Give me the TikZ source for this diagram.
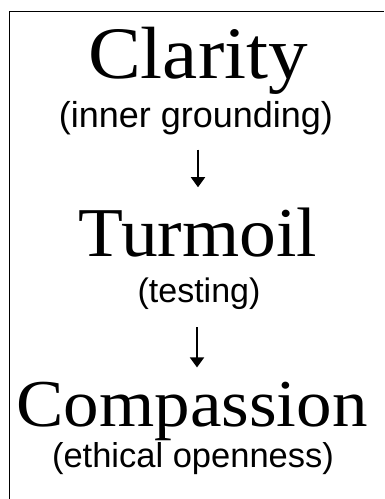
\documentclass[tikz,border=0pt]{standalone}
\usepackage{fontspec}
\newfontfamily\subfont{Liberation Sans}
\newfontfamily\ttlfont{Liberation Serif}
\usetikzlibrary{arrows.meta}
\newcommand{\wide}[2]{\scalebox{#1}[1]{#2}}
\tikzset{
  title/.style={anchor=base, inner sep=0pt, font=\ttlfont\fontsize{#1}{#1}\selectfont},
  subtitle/.style={anchor=base, inner sep=0pt, font=\subfont\fontsize{#1}{#1}\selectfont},
  arr/.style={line width=1.8pt, -{Triangle[width=14pt,length=10pt]}},
  frame/.style={line width=1.8pt}
}
\begin{document}
\begin{tikzpicture}[x=1pt,y=-1pt]
\useasboundingbox[fill=white] (0,0) rectangle (384,499);
\draw[frame] (9.5,499) -- (9.5,11.5) -- (384,11.5);
\node[title=74] (t1) at (198,78) {\wide{1.07}{Clarity}};
\node[subtitle=36] (s1) at (196,127) {(inner grounding)};
\node[title=70] (t2) at (198,256) {\wide{1.05}{Turmoil}};
\node[subtitle=34] (s2) at (199,302) {(testing)};
\node[title=67] (t3) at (192,426) {\wide{1.06}{Compassion}};
\node[subtitle=34.5] (s3) at (193,467) {(ethical openness)};
\draw[arr, shorten <=15pt, shorten >=20pt] (s1.south -| 198,0) -- (t2.north -| 198,0);
\draw[arr, shorten <=18pt, shorten >=14pt] (s2.south -| 197,0) -- (t3.north -| 197,0);
\end{tikzpicture}
\end{document}
